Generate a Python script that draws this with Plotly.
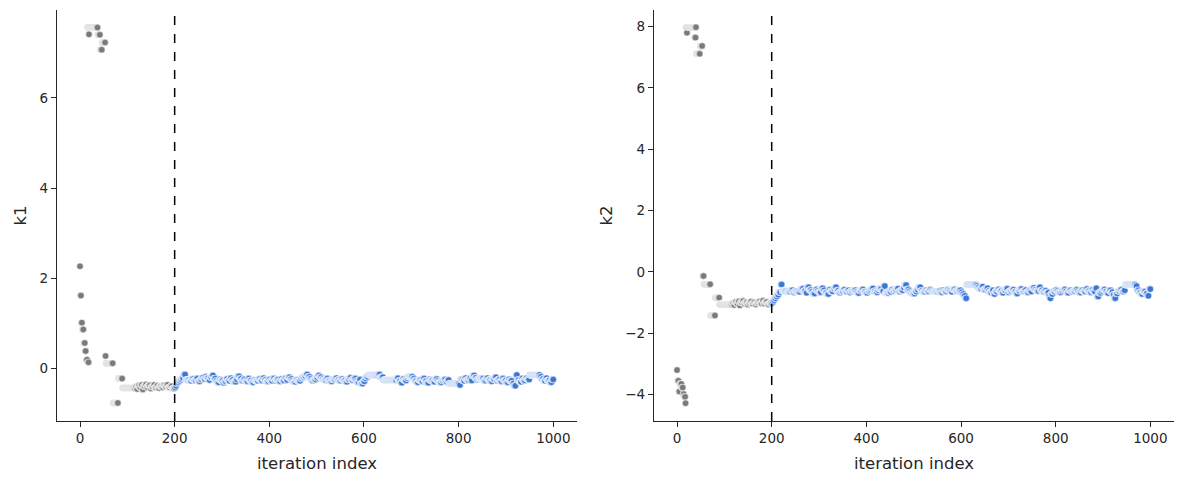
import plotly.graph_objects as go

BURN_IN = 200
X_TICKS = [0, 200, 400, 600, 800, 1000]
K1_TICKS = [0, 2, 4, 6]
K2_TICKS = [-4, -2, 0, 2, 4, 6, 8]

# chain runs: (length, value); each run holds a value; last iteration of a run is the accepted (dark) point
k1_run_len = [
    1, 2, 2, 3, 3, 2, 3, 22, 5, 4, 7, 1, 15, 11, 9, 27,
    3, 2, 4, 3, 3, 2, 4, 3, 3, 5, 2, 4, 3, 4, 3, 3, 5, 3, 4, 3, 3, 5, 4, 5,
    2, 2, 2, 3, 3, 4, 3, 4,
    8, 5, 4, 6, 3, 5, 4,
    3, 4, 2, 5, 3, 4, 3,
    5, 3, 4, 3, 6, 2, 4, 3,
    5, 3, 4, 6, 3, 4, 5, 3,
    4, 6, 3, 5, 4, 3, 7, 4,
    5, 3, 4, 6, 3, 5, 4, 3,
    6, 4, 3, 5, 4, 3, 5, 4,
    3, 5, 4, 6, 3, 5, 4, 3,
    5, 4, 3, 6, 4, 3, 5, 4,
    6, 3, 5, 4, 7, 3, 5, 4,
    3, 6, 4, 5, 3, 4, 6, 3,
    4, 3, 5, 4, 3, 4,
    20, 5,
    7, 28,
    4, 5, 3, 4, 5, 3, 10,
    4, 5, 3, 6, 4, 3, 5, 4, 3, 6, 4, 5,
    3, 6, 4, 5, 3, 4,
    22, 2,
    5, 4, 3, 6, 4, 3, 5, 4,
    3, 12, 5, 4, 6, 3, 5, 4, 3,
    5, 4, 3, 6, 4, 3, 5, 4, 4, 3, 4, 5, 3,
    5, 4, 5,
    22, 3,
    4, 5, 3, 6, 4, 4,
]
k1_run_val = [
    2.27, 1.62, 1.02, 0.87, 0.57, 0.39, 0.20, 7.56, 7.40, 7.07, 7.23, 0.28, 0.12, -0.76, -0.22, -0.43,
    -0.40, -0.45, -0.38, -0.42, -0.36, -0.46, -0.39, -0.35, -0.41, -0.37, -0.44, -0.40, -0.36, -0.42,
    -0.38, -0.43, -0.39, -0.41, -0.37, -0.40, -0.36, -0.42, -0.39, -0.44,
    -0.42, -0.38, -0.33, -0.30, -0.27, -0.24, -0.21, -0.13,
    -0.25, -0.27, -0.23, -0.26, -0.22, -0.28, -0.24,
    -0.20, -0.23, -0.18, -0.21, -0.25, -0.19, -0.15,
    -0.22, -0.27, -0.30, -0.24, -0.26, -0.31, -0.28, -0.23,
    -0.27, -0.21, -0.25, -0.29, -0.24, -0.17, -0.22, -0.27,
    -0.24, -0.28, -0.22, -0.26, -0.30, -0.25, -0.27, -0.23,
    -0.26, -0.21, -0.25, -0.28, -0.24, -0.27, -0.22, -0.26,
    -0.24, -0.28, -0.23, -0.26, -0.21, -0.25, -0.19, -0.23,
    -0.27, -0.29, -0.25, -0.27, -0.22, -0.19, -0.17, -0.13,
    -0.18, -0.22, -0.26, -0.24, -0.20, -0.15, -0.19, -0.23,
    -0.25, -0.22, -0.26, -0.28, -0.24, -0.21, -0.25, -0.27,
    -0.23, -0.26, -0.29, -0.24, -0.20, -0.25, -0.22, -0.27,
    -0.30, -0.24, -0.33, -0.28, -0.22, -0.18,
    -0.14, -0.13,
    -0.19, -0.25,
    -0.21, -0.27, -0.31, -0.23, -0.26, -0.21, -0.18,
    -0.22, -0.26, -0.30, -0.25, -0.28, -0.22, -0.27, -0.31, -0.24, -0.26, -0.29, -0.23,
    -0.27, -0.30, -0.26, -0.24, -0.29, -0.25,
    -0.33, -0.36,
    -0.24, -0.27, -0.21, -0.25, -0.22, -0.26, -0.15, -0.20,
    -0.24, -0.22, -0.26, -0.21, -0.25, -0.28, -0.23, -0.19, -0.26,
    -0.24, -0.28, -0.22, -0.26, -0.30, -0.24, -0.27, -0.33, -0.38, -0.14, -0.25, -0.29, -0.22,
    -0.26, -0.21, -0.24,
    -0.14, -0.18,
    -0.23, -0.27, -0.21, -0.26, -0.30, -0.24,
]
k1_extra_start = [17, 19]
k1_extra_len = [2, 1]
k1_extra_val = [0.14, 7.41]

k2_run_len = [
    1, 3, 2, 4, 3, 2, 3, 1, 22, 8, 5, 3, 14, 10, 9, 27,
    3, 2, 4, 3, 3, 2, 4, 3, 3, 5, 2, 4, 3, 4, 3, 3, 5, 3, 4, 3, 3, 5, 4, 5,
    2, 2, 2, 3, 3, 3, 4, 3,
    10, 8, 5,
    4, 6, 5, 3, 4, 5, 3, 4, 5, 3,
    5, 4, 3, 6, 4, 3, 5, 4, 3, 6,
    4, 3, 5, 4, 6, 3, 5, 4, 3, 5,
    6, 4, 3, 5, 4, 6, 3, 5, 4, 3,
    5, 4, 3, 6, 4, 3, 8, 5, 3, 4,
    5, 3, 4, 6, 3, 4, 5, 3, 4,
    6, 4, 3, 5, 4, 6, 3, 5, 4, 3,
    12, 5, 4, 3, 6, 4, 5, 3,
    6, 6, 6, 3, 3, 3, 3,
    20, 3,
    4, 5, 3, 6, 4, 3, 5, 4, 3, 5,
    4, 6, 3, 5, 4, 3, 6, 4, 5, 3,
    5, 4, 6, 3, 5, 4, 3, 5, 4, 6,
    3, 5, 4, 3, 6, 2, 2, 4,
    5, 4, 3, 6, 4, 5, 3, 4, 5, 3,
    6, 4, 3, 5, 4, 6, 3, 5, 4, 3,
    5, 3, 4, 5, 3, 6, 4, 3, 5,
    4, 3, 3, 4, 5, 4, 4, 3,
    22, 3,
    4, 5, 3, 6, 4, 3, 4,
]
k2_run_val = [
    -3.20, -3.55, -3.90, -3.65, -3.77, -3.98, -4.07, -4.28, 7.98, 7.11, 7.37, -0.13, -0.40, -1.42, -0.84, -1.05,
    -1.02, -1.08, -0.98, -1.04, -0.96, -1.09, -1.00, -0.95, -1.03, -0.99, -1.06, -1.01, -0.97, -1.04,
    -0.99, -1.05, -1.00, -0.96, -1.02, -0.94, -1.03, -0.98, -1.05, -1.01,
    -1.02, -0.97, -0.92, -0.86, -0.80, -0.74, -0.66, -0.41,
    -0.62, -0.64, -0.60,
    -0.66, -0.63, -0.65, -0.58, -0.55, -0.62, -0.68, -0.50, -0.59, -0.64,
    -0.70, -0.57, -0.62, -0.66, -0.53, -0.60, -0.67, -0.72, -0.58, -0.63,
    -0.55, -0.50, -0.61, -0.67, -0.63, -0.58, -0.64, -0.60, -0.66, -0.62,
    -0.60, -0.65, -0.69, -0.61, -0.57, -0.64, -0.68, -0.62, -0.59, -0.54,
    -0.63, -0.66, -0.60, -0.55, -0.62, -0.46, -0.69, -0.65, -0.58, -0.62,
    -0.59, -0.55, -0.64, -0.60, -0.52, -0.43, -0.57, -0.63, -0.68,
    -0.70, -0.64, -0.58, -0.50, -0.61, -0.65, -0.60, -0.63, -0.58, -0.62,
    -0.64, -0.62, -0.66, -0.60, -0.63, -0.58, -0.61, -0.65,
    -0.57, -0.62, -0.60, -0.66, -0.72, -0.78, -0.86,
    -0.42, -0.45,
    -0.50, -0.55, -0.48, -0.58, -0.53, -0.62, -0.66, -0.60, -0.72, -0.64,
    -0.57, -0.62, -0.68, -0.60, -0.55, -0.66, -0.62, -0.58, -0.64, -0.70,
    -0.61, -0.56, -0.63, -0.59, -0.66, -0.60, -0.64, -0.52, -0.58, -0.62,
    -0.50, -0.60, -0.65, -0.61, -0.67, -0.78, -0.86, -0.72,
    -0.64, -0.59, -0.62, -0.66, -0.61, -0.57, -0.63, -0.68, -0.60, -0.65,
    -0.62, -0.58, -0.63, -0.67, -0.60, -0.64, -0.56, -0.62, -0.66, -0.59,
    -0.64, -0.53, -0.80, -0.68, -0.62, -0.57, -0.63, -0.69, -0.60,
    -0.66, -0.74, -0.86, -0.70, -0.62, -0.58, -0.64, -0.60,
    -0.42, -0.46,
    -0.60, -0.66, -0.72, -0.64, -0.70, -0.78, -0.56,
]
k2_extra_start = [21, 37]
k2_extra_len = [1, 3]
k2_extra_val = [7.80, 7.64]

COL = {
    ("burn", "light"): "#bdbdbd",
    ("burn", "dark"): "#7a7a7a",
    ("post", "light"): "#9dbbe9",
    ("post", "dark"): "#3a76d6",
}


def expand(lengths, values, starts=None):
    pts = []  # (iteration, value, kind)
    pos = 0
    for i, (n, v) in enumerate(zip(lengths, values)):
        s = starts[i] if starts is not None else pos
        for it in range(s, s + n):
            pts.append((it, v, "dark" if it == s + n - 1 else "light"))
        pos = s + n
    return pts


def trace(pts, xa, ya):
    pts = sorted(pts, key=lambda p: p[0])
    cols = [COL[("burn" if p[0] < BURN_IN else "post", p[2])] for p in pts]
    return go.Scatter(
        x=[p[0] for p in pts], y=[p[1] for p in pts], mode="markers",
        xaxis=xa, yaxis=ya, showlegend=False, hoverinfo="skip",
        marker=dict(size=6.5, color=cols, line=dict(color="white", width=0.5)),
    )


pts1 = expand(k1_run_len, k1_run_val) + expand(k1_extra_len, k1_extra_val, k1_extra_start)
pts2 = expand(k2_run_len, k2_run_val) + expand(k2_extra_len, k2_extra_val, k2_extra_start)

fig = go.Figure()
fig.add_trace(trace(pts1, "x", "y"))
fig.add_trace(trace(pts2, "x2", "y2"))

axcol = "#262626"
font = "DejaVu Sans"
common = dict(showline=True, linecolor=axcol, linewidth=1.25, ticks="outside", ticklen=5,
              tickwidth=1.25, tickcolor=axcol, showgrid=False, zeroline=False, automargin=False,
              tickfont=dict(family=font, size=13.5, color=axcol),
              title_font=dict(family=font, size=16.5, color=axcol))

fig.update_layout(
    width=1183, height=484, plot_bgcolor="white", paper_bgcolor="white",
    margin=dict(l=57, r=9, t=10, b=63),
    xaxis=dict(domain=[0, 0.4655], range=[-48.6, 1050], tickvals=X_TICKS, anchor="y",
               title=dict(text="iteration index", standoff=12), **common),
    yaxis=dict(domain=[0, 1], range=[-1.16, 7.95], tickvals=K1_TICKS, anchor="x",
               title=dict(text="k1", standoff=8), **common),
    xaxis2=dict(domain=[0.5345, 1], range=[-48.6, 1050], tickvals=X_TICKS, anchor="y2",
                title=dict(text="iteration index", standoff=12), **common),
    yaxis2=dict(domain=[0, 1], range=[-4.86, 8.54], tickvals=K2_TICKS, anchor="x2",
                title=dict(text="k2", standoff=8), **common),
    shapes=[
        dict(type="line", xref="x", yref="y domain", x0=BURN_IN, x1=BURN_IN, y0=0, y1=1,
             line=dict(color="black", width=1.5, dash="dash")),
        dict(type="line", xref="x2", yref="y2 domain", x0=BURN_IN, x1=BURN_IN, y0=0, y1=1,
             line=dict(color="black", width=1.5, dash="dash")),
    ],
)

fig.write_html("out.html", config={"displayModeBar": False},
               post_script="document.body.style.margin='0';")
